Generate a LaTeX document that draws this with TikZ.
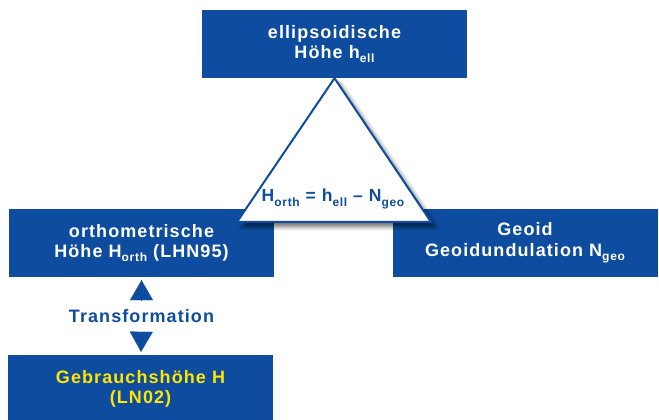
\documentclass[tikz,border=0pt]{standalone}
\usepackage{fontspec}
\setmainfont{Liberation Sans}[LetterSpace=6]
\usetikzlibrary{shadows.blur,arrows.meta}
\definecolor{lhblue}{HTML}{0D4C9F}
\definecolor{lhyellow}{HTML}{FFE600}
\newcommand\lowidx[1]{\raisebox{-0.45ex}{\fontsize{12}{12}\selectfont #1}}

\begin{document}
\begin{tikzpicture}[x=1pt, y=1pt,
    every node/.style={font=\fontsize{18}{20.5}\selectfont\bfseries},
    hbox/.style={fill=lhblue, text=white, align=center, minimum width=265pt, minimum height=68pt, inner sep=0pt},
    tipto/.style={-{Triangle[width=23pt,length=20pt]}, lhblue, line width=0.1pt, shorten >=3pt}]
\useasboundingbox (0,0) rectangle (659,420);
% Draw boxes
\node[hbox] (ell) at (334.5,376) {ellipsoidische\\Höhe h\lowidx{ell}};
\node[hbox] (orth) at (141.5,177) {orthometrische\\Höhe H\lowidx{orth} (LHN95)};
\node[hbox] (geoid) at (525,177) {Geoid\\Geoidundulation N\lowidx{geo}};
\node[hbox, text=lhyellow] (gebr) at (140.5,31) {Gebrauchshöhe H\\(LN02)};
% Draw transformation arrows
\node[text=lhblue, minimum height=32pt, inner sep=0pt] (trans) at (141.5,104) {Transformation};
\draw[tipto] (trans) -- (orth);
\draw[tipto] (trans) -- (gebr);
% Draw triangle
\coordinate (tl) at (237,198);
\coordinate (tr) at (431,198);
\filldraw[fill=white, draw=lhblue, line width=2pt, line join=miter,
    blur shadow={shadow xshift=5pt, shadow yshift=-5pt, shadow blur radius=4pt, shadow opacity=55}]
    (ell.south) -- (tl) -- (tr) -- cycle;
\node[text=lhblue, font=\fontsize{17.5}{20}\selectfont\bfseries] (formula) at (333,221) {H\lowidx{orth} = h\lowidx{ell} – N\lowidx{geo}};
\end{tikzpicture}
\end{document}
